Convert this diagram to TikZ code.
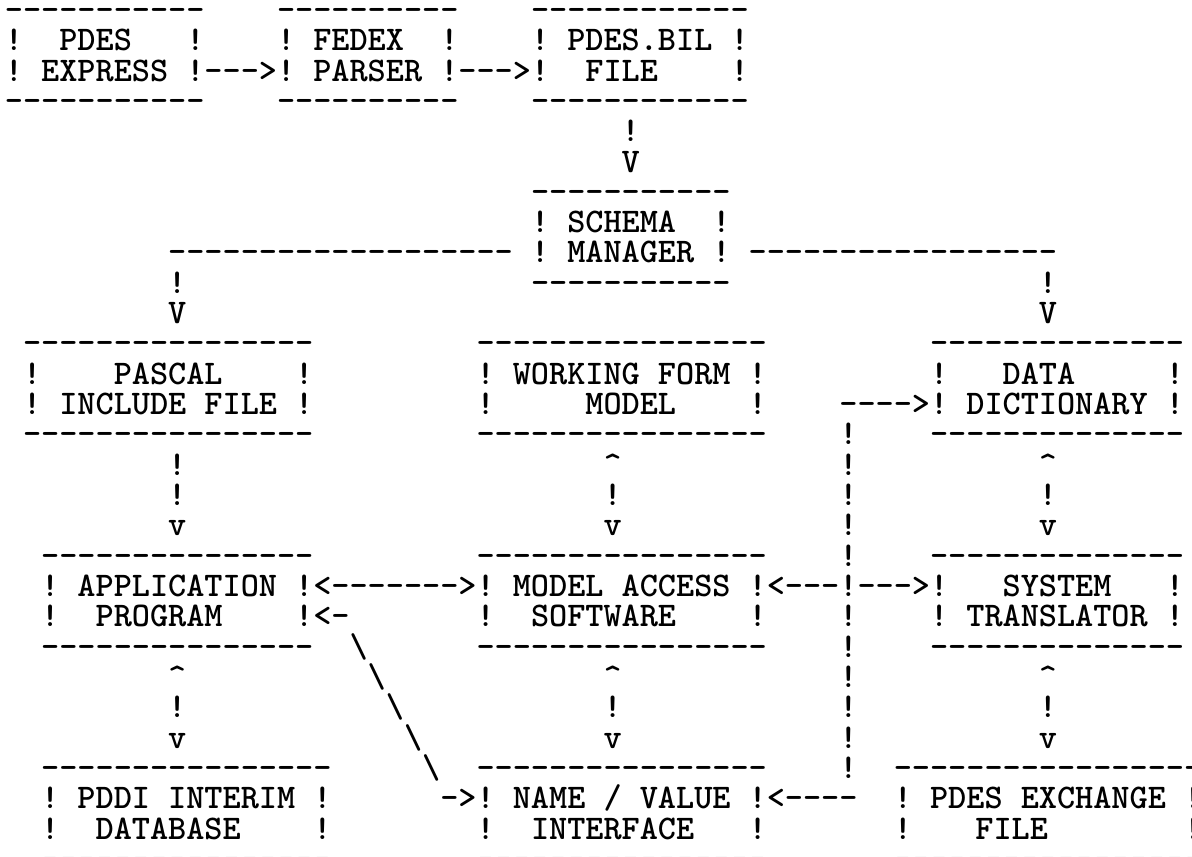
\documentclass[tikz,border=0pt]{standalone}
\usepackage{tikz}

% typewriter cell: 9.07pt wide, 15.16pt high
\newlength\tycw
\settowidth\tycw{\fontsize{17.28pt}{15pt}\ttfamily\bfseries\selectfont M}
\pgfmathsetmacro\ttysize{17.28*9.07/\tycw}
\newcommand\ttyfont{\fontsize{\ttysize pt}{15.16pt}\ttfamily\bfseries\selectfont}

\newcommand\dashes[1]{\foreach\k in {1,...,#1}{-\kern0pt}}

\tikzset{
  tty/.style={anchor=base west, inner sep=0pt, outer sep=0pt, font=\ttyfont},
}

% name, col, row, width, offset 1, line 1, offset 2, line 2
\newcommand\asciibox[8]{%
  \node[tty] (#1-top) at (#2,#3) {\dashes{#4}};
  \foreach \k in {1,2} {
    \node[tty] (#1-w\k) at (#2,#3+\k) {!};
    \node[tty] (#1-e\k) at (#2+#4-1,#3+\k) {!};
  }
  \node[tty] (#1-a) at (#2+#5,#3+1) {#6};
  \node[tty] (#1-b) at (#2+#7,#3+2) {#8};
  \node[tty] (#1-bot) at (#2,#3+3) {\dashes{#4}};
}

% name, col, first row, one character per row
\newcommand\vstack[4]{%
  \foreach \ch [count=\k from 0] in {#4}
    {\node[tty] (#1-\k) at (#2,#3+\k) {\ch};}
}

\begin{document}
\begin{tikzpicture}
\useasboundingbox (0pt,0pt) rectangle (596pt,-428pt);
\begin{scope}[shift={(2.465pt,-10.2pt)}, x=9.07pt, y=-15.16pt]
  % boxes
  \asciibox{express}{0}{0}{11}{3}{PDES}{2}{EXPRESS}
  \asciibox{fedex}{15}{0}{10}{2}{FEDEX}{2}{PARSER}
  \asciibox{bil}{29}{0}{12}{2}{PDES.BIL}{3}{FILE}
  \asciibox{schema}{29}{6}{11}{2}{SCHEMA}{2}{MANAGER}
  \asciibox{pascal}{1}{11}{16}{5}{PASCAL}{2}{INCLUDE FILE}
  \asciibox{wform}{26}{11}{16}{2}{WORKING FORM}{6}{MODEL}
  \asciibox{dict}{51}{11}{14}{4}{DATA}{2}{DICTIONARY}
  \asciibox{appl}{2}{18}{15}{2}{APPLICATION}{3}{PROGRAM}
  \asciibox{access}{26}{18}{16}{2}{MODEL ACCESS}{3}{SOFTWARE}
  \asciibox{systr}{51}{18}{14}{4}{SYSTEM}{2}{TRANSLATOR}
  \asciibox{pddi}{2}{25}{16}{2}{PDDI INTERIM}{3}{DATABASE}
  \asciibox{namval}{26}{25}{16}{2}{NAME / VALUE}{3}{INTERFACE}
  \asciibox{exch}{49}{25}{17}{2}{PDES EXCHANGE}{4.5}{FILE}
  %
  % horizontal links
  \node[tty] (ex-fe) at (11,2) {\dashes{3}>};
  \node[tty] (fe-bi) at (25,2) {\dashes{3}>};
  \node[tty] (sc-left) at (9,8) {\dashes{19}};
  \node[tty] (sc-right) at (41,8) {\dashes{17}};
  \node[tty] (to-dict) at (46,13) {\dashes{4}>};
  \node[tty] (ap-ac) at (17,19) {<\dashes{7}>};
  \node[tty] (ac-bus) at (42,19) {<\dashes{3}};
  \node[tty] (bus-sy) at (47,19) {\dashes{3}>};
  \node[tty] (nv-ap) at (17,20) {<\dashes{1}};
  \node[tty] (ap-nv) at (24,26) {\dashes{1}>};
  \node[tty] (bus-nv) at (42,26) {<\dashes{4}};
  \foreach \k in {0,...,4}
    \node[tty] (slash-\k) at (19+\k,21+\k) {\textbackslash};
  %
  % vertical links
  \vstack{bi-sc}{34}{4}{!,V}
  \vstack{sc-pa}{9}{9}{!,V}
  \vstack{sc-di}{57}{9}{!,V}
  \vstack{pa-ap}{9}{15}{!,!,v}
  \vstack{wf-ac}{33}{15}{\textasciicircum,!,v}
  \vstack{di-sy}{57}{15}{\textasciicircum,!,v}
  \vstack{bus}{46}{14}{!,!,!,!,!,!,!,!,!,!,!,!}
  \vstack{ap-pd}{9}{22}{\textasciicircum,!,v}
  \vstack{ac-nv}{33}{22}{\textasciicircum,!,v}
  \vstack{sy-ex}{57}{22}{\textasciicircum,!,v}
\end{scope}
\end{tikzpicture}
\end{document}
